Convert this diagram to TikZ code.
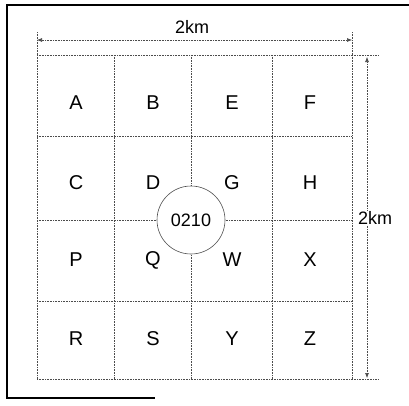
\documentclass[tikz,border=0pt]{standalone}
\usepackage{fontspec}
\setmainfont{Liberation Sans}
\usetikzlibrary{arrows.meta}
\tikzset{
  gridline/.style={black!70, line width=0.6pt, densely dotted},
  frameline/.style={black, line width=1.1pt},
  tip/.tip={Latex[length=5pt,width=4pt]},
  lab/.style={font=\fontsize{18}{20}\selectfont, inner sep=1pt},
  celllab/.style={font=\fontsize{20}{22}\selectfont, inner sep=1pt}
}
\begin{document}
\begin{tikzpicture}[x=1pt,y=-1pt]
\useasboundingbox (0,0) rectangle (409,405);
% outer frame
\draw[frameline] (409,5) -- (7,5) -- (7,398) -- (155,398);
% grid lines
\foreach \x in {37,114,191,272,352} \draw[gridline] (\x,55) -- (\x,379);
\draw[gridline] (37,55) -- (378,55);
\draw[gridline] (37,379) -- (378,379);
\foreach \y in {136,220,301} \draw[gridline] (37,\y) -- (352,\y);
% centre hub
\node[circle, draw=black!70, line width=0.6pt, fill=white, minimum size=68pt, inner sep=1pt, lab] (hub) at (191,220) {0210};
% cell letters
\foreach \lab/\x/\y in {A/76/103,B/153/103,E/232/103,F/310/103,
                        C/76/183,D/153/183,G/232/183,H/310/183,
                        P/76/260,Q/153/260,W/232/260,X/310/260,
                        R/76/339,S/153/339,Y/232/339,Z/310/339}
  \node[celllab] (cell\lab) at (\x,\y) {\lab};
% width dimension
\coordinate (wl) at (37,40);
\coordinate (wr) at (352,40);
\draw[gridline] (37,32) -- (37,55);
\draw[gridline] (352,32) -- (352,55);
\draw[gridline, tip-tip] (wl) -- (wr);
\node[lab] (wkm) at (192,27) {2km};
% height dimension
\coordinate (ht) at (367,57);
\coordinate (hb) at (367,378);
\node[lab, fill=white] (hkm) at (375,218) {2km};
\draw[gridline, -tip] (ht |- hkm.north) -- (ht);
\draw[gridline, -tip] (hb |- hkm.south) -- (hb);
\end{tikzpicture}
\end{document}
